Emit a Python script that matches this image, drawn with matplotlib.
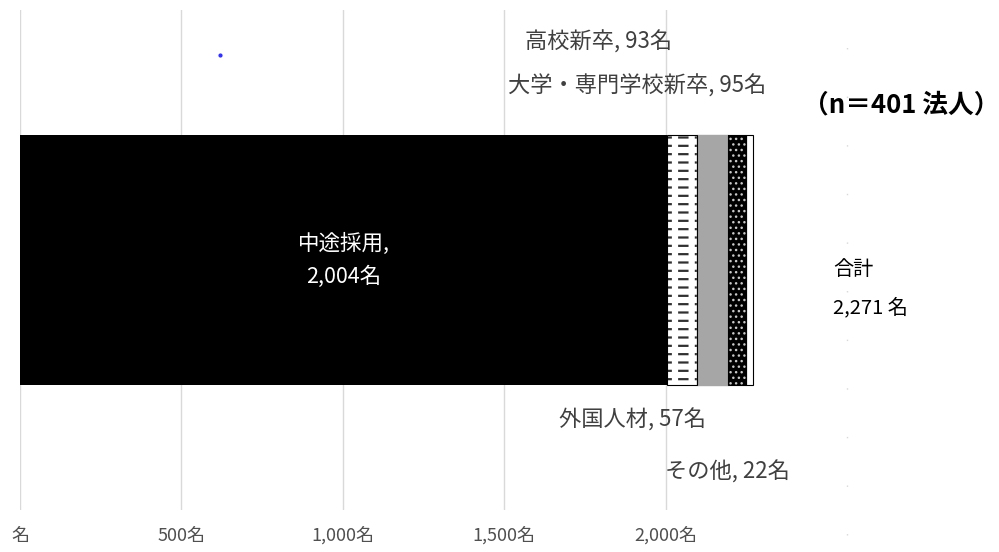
import matplotlib
matplotlib.use("Agg")
import matplotlib.pyplot as plt
from matplotlib.lines import Line2D

plt.rcParams['font.family'] = ['Noto Sans CJK JP', 'DejaVu Sans']

# 採用人数の内訳（名）
categories = ['中途採用', '高校新卒', '大学・専門学校新卒', '外国人材', 'その他']
counts = [2004, 93, 95, 57, 22]
tick_values = [0, 500, 1000, 1500, 2000]
tick_labels = ['名', '500名', '1,000名', '1,500名', '2,000名']
total = sum(counts)
n_corp = 401

fig = plt.figure(figsize=(9.99, 5.52), dpi=100)
ax = fig.add_axes([0.020, 0.076, 0.808, 0.906])

label_color = '#404040'

lefts = [sum(counts[:i]) for i in range(len(counts))]

# 中途採用
ax.barh(0, counts[0], left=lefts[0], height=1.0, color='black', zorder=3)
# 高校新卒: 白地に短い横線（横線を白の縦線で切る）
with plt.rc_context({'hatch.linewidth': 1.6}):
    ax.barh(0, counts[1], left=lefts[1], height=1.0, facecolor='white',
            edgecolor='#303030', hatch='--', linewidth=0, zorder=3)
with plt.rc_context({'hatch.linewidth': 4.5}):
    ax.barh(0, counts[1], left=lefts[1], height=1.0, facecolor='none',
            edgecolor='white', hatch='|', linewidth=0, zorder=4)
ax.barh(0, counts[1], left=lefts[1], height=1.0, facecolor='none',
        edgecolor='black', linewidth=0.8, zorder=5)
# 大学・専門学校新卒
ax.barh(0, counts[2], left=lefts[2], height=1.0, color='#a6a6a6',
        edgecolor='#a6a6a6', zorder=3)
# 外国人材: 黒地に白い点
ax.barh(0, counts[3], left=lefts[3], height=1.0, facecolor='black',
        edgecolor='#c8c8c8', hatch='...', linewidth=0, zorder=3)
ax.barh(0, counts[3], left=lefts[3], height=1.0, facecolor='none',
        edgecolor='black', linewidth=0.8, zorder=4)
# その他
ax.barh(0, counts[4], left=lefts[4], height=1.0, facecolor='white',
        edgecolor='black', linewidth=0.8, zorder=3)

ax.set_xlim(0, 2500)
ax.set_ylim(-1, 1)
ax.set_xticks(tick_values)
ax.set_xticklabels(tick_labels, color='#505050', fontsize=13)
ax.set_yticks([])
ax.tick_params(axis='x', length=0, pad=12)
ax.grid(axis='x', color='#d9d9d9', linewidth=1.0, zorder=0)
for s in ax.spines.values():
    s.set_visible(False)

# 中途採用ラベル（棒の中）
mid = lefts[0] + counts[0] / 2
ax.text(mid, 0.066, f'{categories[0]},', color='white',
        fontsize=15.5, ha='center', va='center', zorder=6)
ax.text(mid, -0.066, f'{counts[0]:,}名', color='white',
        fontsize=15.5, ha='center', va='center', zorder=6)

# 小さい項目のラベル
fs = 16
fig.text(0.599, 0.924, f'{categories[1]}, {counts[1]}名', color=label_color,
         fontsize=fs, ha='center', va='center')
fig.text(0.638, 0.844, f'{categories[2]}, {counts[2]}名', color=label_color,
         fontsize=fs, ha='center', va='center')
fig.text(0.633, 0.240, f'{categories[3]}, {counts[3]}名', color=label_color,
         fontsize=fs, ha='center', va='center')
fig.text(0.728, 0.145, f'{categories[4]}, {counts[4]}名', color=label_color,
         fontsize=fs, ha='center', va='center')

# 合計と回答法人数
fig.text(0.834, 0.511, '合計', color='black', fontsize=14.5, ha='left', va='center')
fig.text(0.834, 0.442, f'{total:,} 名', color='black', fontsize=14.5,
         ha='left', va='center')
fig.text(0.804, 0.810, f'（n＝{n_corp} 法人）', color='black', fontsize=18.5,
         fontweight='bold', ha='left', va='center')

# 右側の薄い点線と青い点
fig.add_artist(Line2D([0.848, 0.848], [0.03, 0.97], transform=fig.transFigure,
                      color='#d8d8d8', linewidth=1, linestyle=(0, (1, 34))))
fig.add_artist(Line2D([0.220], [0.900], transform=fig.transFigure,
                      marker='o', markersize=2, color='#3030ff', linestyle='none'))

fig.savefig('out.png', dpi=100)
